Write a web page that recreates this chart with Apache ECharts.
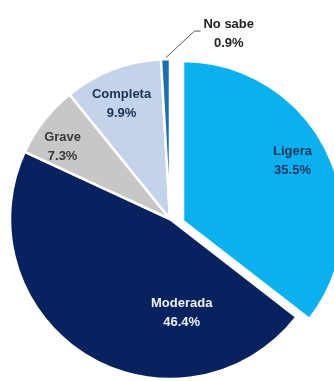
<!DOCTYPE html>
<html>
<head>
<meta charset="utf-8">
<script src="https://cdn.jsdelivr.net/npm/echarts@6/dist/echarts.min.js"></script>
<style>
  html, body { margin: 0; padding: 0; background: #ffffff; }
  #chart { width: 334px; height: 381px; }
</style>
</head>
<body>
<div id="chart"></div>
<script>
// Severity categories and their shares (%)
const categories = ['Ligera', 'Moderada', 'Grave', 'Completa', 'No sabe'];
const shares = [35.5, 46.4, 7.3, 9.9, 0.9];

// Styling per slice
const sliceColors = ['#0bb0ee', '#07225f', '#c9c7c5', '#c3d4ea', '#1b6db5'];
const labelColors = ['#17375e', '#eef1f7', '#3a3a3a', '#1f3050', '#222222'];

// Pie geometry: main pie, and the pulled-out first slice
const CX = 170, CY = 219, R = 160;
const PULLED_CENTER = [183, 221];

// Where each inside label sits: fraction along the slice's sweep and fraction of radius
const labelSpots = [
  { at: 0.48, rad: 0.78 },
  { at: 0.27, rad: 0.59 },
  { at: 0.35, rad: 0.81 },
  { at: 0.45, rad: 0.78 },
  null
];

const total = shares.reduce((a, b) => a + b, 0);
const starts = [];
let acc = 0;
shares.forEach(v => { starts.push(acc / total * 360); acc += v; });
const sweep = i => shares[i] / total * 360;
const rad = deg => deg * Math.PI / 180;
const polar = (ox, oy, r, deg) => [ox + r * Math.sin(rad(deg)), oy - r * Math.cos(rad(deg))];

const baseLabel = {
  show: true,
  position: 'inside',
  fontFamily: 'Liberation Sans',
  fontWeight: 'bold',
  fontSize: 13,
  lineHeight: 19,
  align: 'center',
  formatter: p => p.name + '\n' + Number(p.value).toFixed(1) + '%'
};
const hidden = {
  itemStyle: { color: 'rgba(0,0,0,0)', borderWidth: 0 },
  label: { show: false },
  labelLine: { show: false },
  emphasis: { disabled: true }
};

function insideSpot(i, ox, oy) {
  const spot = labelSpots[i];
  const [x, y] = polar(ox, oy, spot.rad * R, starts[i] + spot.at * sweep(i));
  return { x: x, y: y, align: 'center', verticalAlign: 'middle' };
}

const chart = echarts.init(document.getElementById('chart'), null, { renderer: 'canvas' });

chart.setOption({
  backgroundColor: '#ffffff',
  animation: false,
  series: [
    {
      // Main pie: every slice except the pulled-out one
      type: 'pie',
      center: [CX, CY],
      radius: [0, R],
      startAngle: 90,
      clockwise: true,
      avoidLabelOverlap: false,
      itemStyle: { borderColor: '#ffffff', borderWidth: 2.5 },
      label: baseLabel,
      labelLine: { show: false },
      data: categories.map((name, i) => {
        if (i === 0) return Object.assign({ name: name, value: shares[i] }, hidden);
        const item = {
          name: name,
          value: shares[i],
          itemStyle: { color: sliceColors[i] },
          label: { color: labelColors[i] }
        };
        if (i === 4) {
          item.label = { color: labelColors[i], position: 'outside' };
          item.labelLine = { show: true, lineStyle: { color: '#555555', width: 1 } };
        }
        return item;
      }),
      labelLayout: function (params) {
        const i = params.dataIndex;
        if (labelSpots[i]) return insideSpot(i, CX, CY);
        // Small slice: leader line up and to the right, label beside it
        const p0 = polar(CX, CY, R + 1, starts[i] + sweep(i) / 2);
        const p1 = [p0[0] + 29, p0[1] - 27];
        const p2 = [p1[0] + 6, p1[1]];
        const w = params.labelRect.width;
        return {
          x: p2[0] + 3 + w / 2,
          y: p2[1] + 3,
          align: 'center',
          verticalAlign: 'middle',
          labelLinePoints: [p0, p1, p2]
        };
      }
    },
    {
      // The first slice, pulled out from the pie
      type: 'pie',
      center: PULLED_CENTER,
      radius: [0, R],
      startAngle: 90,
      clockwise: true,
      avoidLabelOverlap: false,
      itemStyle: { borderColor: '#ffffff', borderWidth: 2.5 },
      label: baseLabel,
      labelLine: { show: false },
      data: [
        {
          name: categories[0],
          value: shares[0],
          itemStyle: { color: sliceColors[0] },
          label: { color: labelColors[0] }
        },
        Object.assign({ name: '', value: total - shares[0] }, hidden)
      ],
      labelLayout: function (params) {
        if (params.dataIndex !== 0) return {};
        return insideSpot(0, PULLED_CENTER[0], PULLED_CENTER[1]);
      }
    }
  ]
});
</script>
</body>
</html>
